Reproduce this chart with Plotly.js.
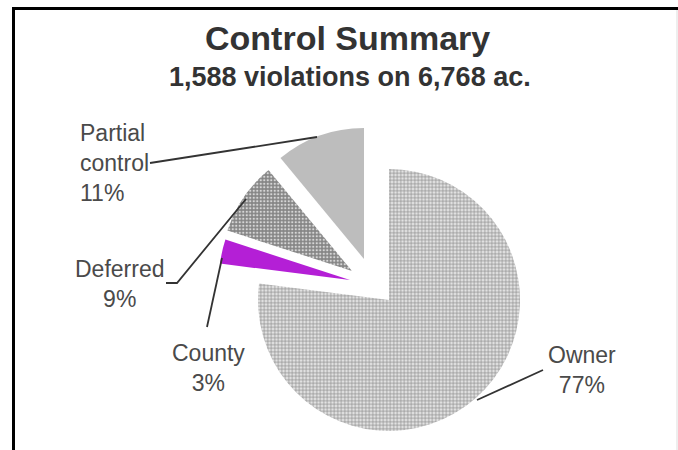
<!DOCTYPE html>
<html><head><meta charset="utf-8">
<script src="https://cdn.plot.ly/plotly-3.0.1.min.js"></script>
<style>html,body{margin:0;padding:0;background:#fff}#chart{width:678px;height:450px}</style>
</head><body><div id="chart"></div>
<script>
// ---- data ----
const categories = ['Owner', 'County', 'Deferred', 'Partial control'];
const shares = [77, 3, 9, 11];
const labelLines = [['Owner'], ['County'], ['Deferred'], ['Partial', 'control']];
const titleText = 'Control Summary';
const subtitleText = '1,588 violations on 6,768 ac.';

// ---- layout helpers ----
const W = 678, H = 450;
const px = x => x / W, py = y => 1 - y / H;
const R = 131;
const centres = [[389, 300], [350, 280], [352, 271], [364, 259]];
const fills = ['#ffffff', '#b41fd6', '#8c8c8c', '#bdbdbd'];
const patterns = [
  {shape: '+', fgcolor: '#8a8a8a', bgcolor: '#e2e2e2', size: 3.5, solidity: 0.35},
  null,
  {shape: '.', fgcolor: '#d6d6d6', bgcolor: '#858585', size: 3.5, solidity: 0.35},
  null
];
const CLEAR = 'rgba(0,0,0,0)';

const traces = categories.map((c, k) => {
  const t = {
    type: 'pie', values: shares, labels: categories, sort: false,
    direction: 'clockwise', rotation: 0, textinfo: 'none', hoverinfo: 'none',
    showlegend: false,
    domain: {x: [px(centres[k][0] - R), px(centres[k][0] + R)],
             y: [py(centres[k][1] + R), py(centres[k][1] - R)]},
    marker: {colors: categories.map((_, i) => i === k ? fills[i] : CLEAR), line: {width: 0}}
  };
  if (patterns[k]) {
    const p = patterns[k];
    t.marker.pattern = {
      shape: categories.map((_, i) => i === k ? p.shape : ''),
      fgcolor: categories.map((_, i) => i === k ? p.fgcolor : CLEAR),
      bgcolor: categories.map((_, i) => i === k ? p.bgcolor : CLEAR),
      size: p.size, solidity: p.solidity
    };
  }
  return t;
});

const labelFont = {family: 'Liberation Sans, Arial, sans-serif', size: 23, color: '#4a4a4a'};
const labelPos = [
  {x: 582, y: 370, xanchor: 'center', align: 'center'},
  {x: 208, y: 368, xanchor: 'center', align: 'center'},
  {x: 119, y: 284, xanchor: 'center', align: 'center'},
  {x: 78, y: 163, xanchor: 'left', align: 'left'}
];
const annotations = categories.map((c, i) => ({
  xref: 'paper', yref: 'paper', x: px(labelPos[i].x), y: py(labelPos[i].y),
  xanchor: labelPos[i].xanchor, yanchor: 'middle', align: labelPos[i].align,
  showarrow: false, font: labelFont,
  text: labelLines[i].join('<br>') + '<br>' + shares[i] + '%'
}));
annotations.push({xref: 'paper', yref: 'paper', x: px(347), y: py(38), showarrow: false,
  xanchor: 'center', yanchor: 'middle',
  text: '<b>' + titleText + '</b>', font: {family: 'Liberation Sans, Arial, sans-serif', size: 34, color: '#333'}});
annotations.push({xref: 'paper', yref: 'paper', x: px(350), y: py(77), showarrow: false,
  xanchor: 'center', yanchor: 'middle',
  text: '<b>' + subtitleText + '</b>', font: {family: 'Liberation Sans, Arial, sans-serif', size: 27, color: '#333'}});

const leaders = [
  [[477, 400], [543, 370]],
  [[207, 327], [222, 258]],
  [[166, 283], [177, 283], [246, 199]],
  [[150, 163], [317, 137]]
];
const shapes = leaders.map(pts => ({
  type: 'path', xref: 'paper', yref: 'paper',
  path: pts.map((p, j) => (j ? 'L' : 'M') + px(p[0]) + ',' + py(p[1])).join(' '),
  line: {color: '#333', width: 1.8}
}));
shapes.push({type: 'line', xref: 'paper', yref: 'paper', x0: px(12), x1: px(678), y0: py(8.5), y1: py(8.5), line: {color: '#000', width: 3}});
shapes.push({type: 'line', xref: 'paper', yref: 'paper', x0: px(13.5), x1: px(13.5), y0: py(7), y1: py(450), line: {color: '#000', width: 3}});
shapes.push({type: 'line', xref: 'paper', yref: 'paper', x0: px(677), x1: px(677), y0: py(10), y1: py(450), line: {color: '#dddddd', width: 1}});

Plotly.newPlot('chart', traces, {
  width: W, height: H, margin: {l: 0, r: 0, t: 0, b: 0},
  paper_bgcolor: '#fff', plot_bgcolor: '#fff',
  annotations: annotations, shapes: shapes, showlegend: false
}, {staticPlot: true});
</script></body></html>
